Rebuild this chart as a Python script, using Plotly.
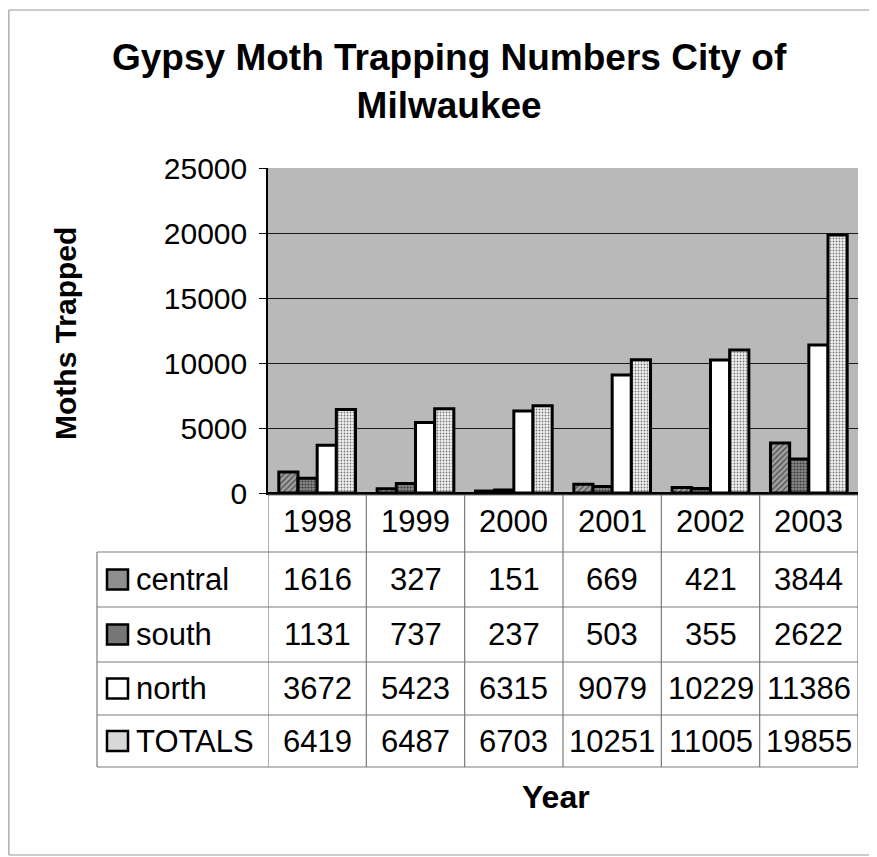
import plotly.graph_objects as go

years = ["1998", "1999", "2000", "2001", "2002", "2003"]
series_names = ["central", "south", "north", "TOTALS"]
central = [1616, 327, 151, 669, 421, 3844]
south = [1131, 737, 237, 503, 355, 2622]
north = [3672, 5423, 6315, 9079, 10229, 11386]
totals = [6419, 6487, 6703, 10251, 11005, 19855]
y_ticks = [0, 5000, 10000, 15000, 20000, 25000]

W, H = 877, 857
OFF = 8  # page body margin offset
FONT = "Liberation Sans, Arial, sans-serif"


def px(x):
    return max(0.0, (x - OFF) / W)


def py(y):
    return 1 - (y - OFF) / H


styles = {
    "central": dict(color="#8f8f8f", pattern=dict(shape="/", fgcolor="#4a4a4a", bgcolor="#a0a0a0", size=4, solidity=0.3)),
    "south": dict(color="#7a7a7a", pattern=dict(shape=".", fgcolor="#3a3a3a", bgcolor="#8a8a8a", size=3, solidity=0.4)),
    "north": dict(color="#ffffff", pattern=None),
    "TOTALS": dict(color="#dcdcdc", pattern=dict(shape=".", fgcolor="#7a7a7a", bgcolor="#f2f2f2", size=3, solidity=0.3)),
}
key_colors = {"central": "#8f8f8f", "south": "#767676", "north": "#ffffff", "TOTALS": "#d8d8d8"}

values = {"central": central, "south": south, "north": north, "TOTALS": totals}

fig = go.Figure()
for name in series_names:
    st = styles[name]
    marker = dict(color=st["color"], line=dict(color="black", width=3))
    if st["pattern"] is not None:
        marker["pattern"] = st["pattern"]
    fig.add_trace(go.Bar(x=years, y=values[name], name=name, marker=marker))

# table geometry (pixels)
table_left = 97
row_edges = [495, 552, 607, 662, 715, 767]
table_right = 858

shapes = []
annotations = []

# outer chart border: left, top and bottom edges (right edge runs off the page)
border = dict(color="#9a9a9a", width=1.2)
shapes.append(dict(type="line", xref="paper", yref="paper", x0=0.001, x1=0.001, y0=py(855), y1=py(10), line=border))
shapes.append(dict(type="line", xref="paper", yref="paper", x0=0.001, x1=1.0, y0=py(10), y1=py(10), line=border))
shapes.append(dict(type="line", xref="paper", yref="paper", x0=0.001, x1=1.0, y0=py(855), y1=py(855), line=border))

line_style = dict(color="#7a7a7a", width=1.2)
# horizontal table lines
shapes.append(dict(type="line", xref="x", yref="paper", x0=-0.5, x1=len(years) - 0.5,
                   y0=py(row_edges[0]), y1=py(row_edges[0]), line=line_style))
for ye in row_edges[1:]:
    shapes.append(dict(type="line", xref="paper", yref="paper", x0=px(table_left), x1=px(table_right),
                       y0=py(ye), y1=py(ye), line=line_style))
# vertical table lines
for i in range(len(years) + 1):
    shapes.append(dict(type="line", xref="x", yref="paper", x0=i - 0.5, x1=i - 0.5,
                       y0=py(row_edges[-1]), y1=py(row_edges[0]), line=line_style))
shapes.append(dict(type="line", xref="paper", yref="paper", x0=px(table_left), x1=px(table_left),
                   y0=py(row_edges[-1]), y1=py(row_edges[1]), line=line_style))

cell_font = dict(family=FONT, size=31, color="black")
# header row
hc = (row_edges[0] + row_edges[1]) / 2 - 2
for i, yr in enumerate(years):
    annotations.append(dict(x=i, xref="x", y=py(hc), yref="paper", text=yr, showarrow=False,
                            font=cell_font, xanchor="center", yanchor="middle"))
# data rows
for r, name in enumerate(series_names):
    c = (row_edges[r + 1] + row_edges[r + 2]) / 2
    for i, v in enumerate(values[name]):
        annotations.append(dict(x=i, xref="x", y=py(c), yref="paper", text=str(v), showarrow=False,
                                font=cell_font, xanchor="center", yanchor="middle"))
    annotations.append(dict(x=px(134), xref="paper", y=py(c), yref="paper", text=name, showarrow=False,
                            font=cell_font, xanchor="left", yanchor="middle"))
    shapes.append(dict(type="rect", xref="paper", yref="paper", x0=px(107), x1=px(128),
                       y0=py(c + 10), y1=py(c - 10), fillcolor=key_colors[name],
                       line=dict(color="black", width=2.5)))

# titles
annotations.append(dict(x=px(449), y=py(82), xref="paper", yref="paper",
                        text="<b>Gypsy Moth Trapping Numbers City of<br>Milwaukee</b>", showarrow=False,
                        font=dict(family=FONT, size=37, color="black"), xanchor="center", yanchor="middle"))
annotations.append(dict(x=px(65), y=py(334), xref="paper", yref="paper", text="<b>Moths Trapped</b>",
                        textangle=-90, showarrow=False, font=dict(family=FONT, size=30, color="black"),
                        xanchor="center", yanchor="middle"))
annotations.append(dict(x=px(556), y=py(797), xref="paper", yref="paper", text="<b>Year</b>",
                        showarrow=False, font=dict(family=FONT, size=32, color="black"),
                        xanchor="center", yanchor="middle"))

fig.update_layout(
    template="none",
    width=W, height=H,
    autosize=False,
    margin=dict(l=0, r=0, t=0, b=0, pad=0, autoexpand=False),
    paper_bgcolor="white",
    plot_bgcolor="#b9b9b9",
    barmode="group",
    bargap=0.22,
    bargroupgap=0,
    showlegend=False,
    shapes=shapes,
    annotations=annotations,
    font=dict(family=FONT, color="black"),
)
fig.update_xaxes(type="category", domain=[px(268), px(858)], range=[-0.5, len(years) - 0.5],
                 showticklabels=False, automargin=False,
                 showgrid=False, showline=True, linecolor="black", linewidth=1.5, ticks="", zeroline=False)
fig.update_yaxes(domain=[py(493), py(168)], range=[0, 25000], tickvals=y_ticks, automargin=False,
                 ticktext=[str(t) for t in y_ticks], showgrid=True, gridcolor="#1a1a1a", gridwidth=1,
                 showline=True, linecolor="black", linewidth=1.5, ticks="outside", ticklen=7,
                 tickcolor="black", tickfont=dict(family=FONT, size=30, color="black"),
                 ticklabelstandoff=6, zeroline=True, zerolinecolor="black", zerolinewidth=1.5)

fig.write_html("out.html")
